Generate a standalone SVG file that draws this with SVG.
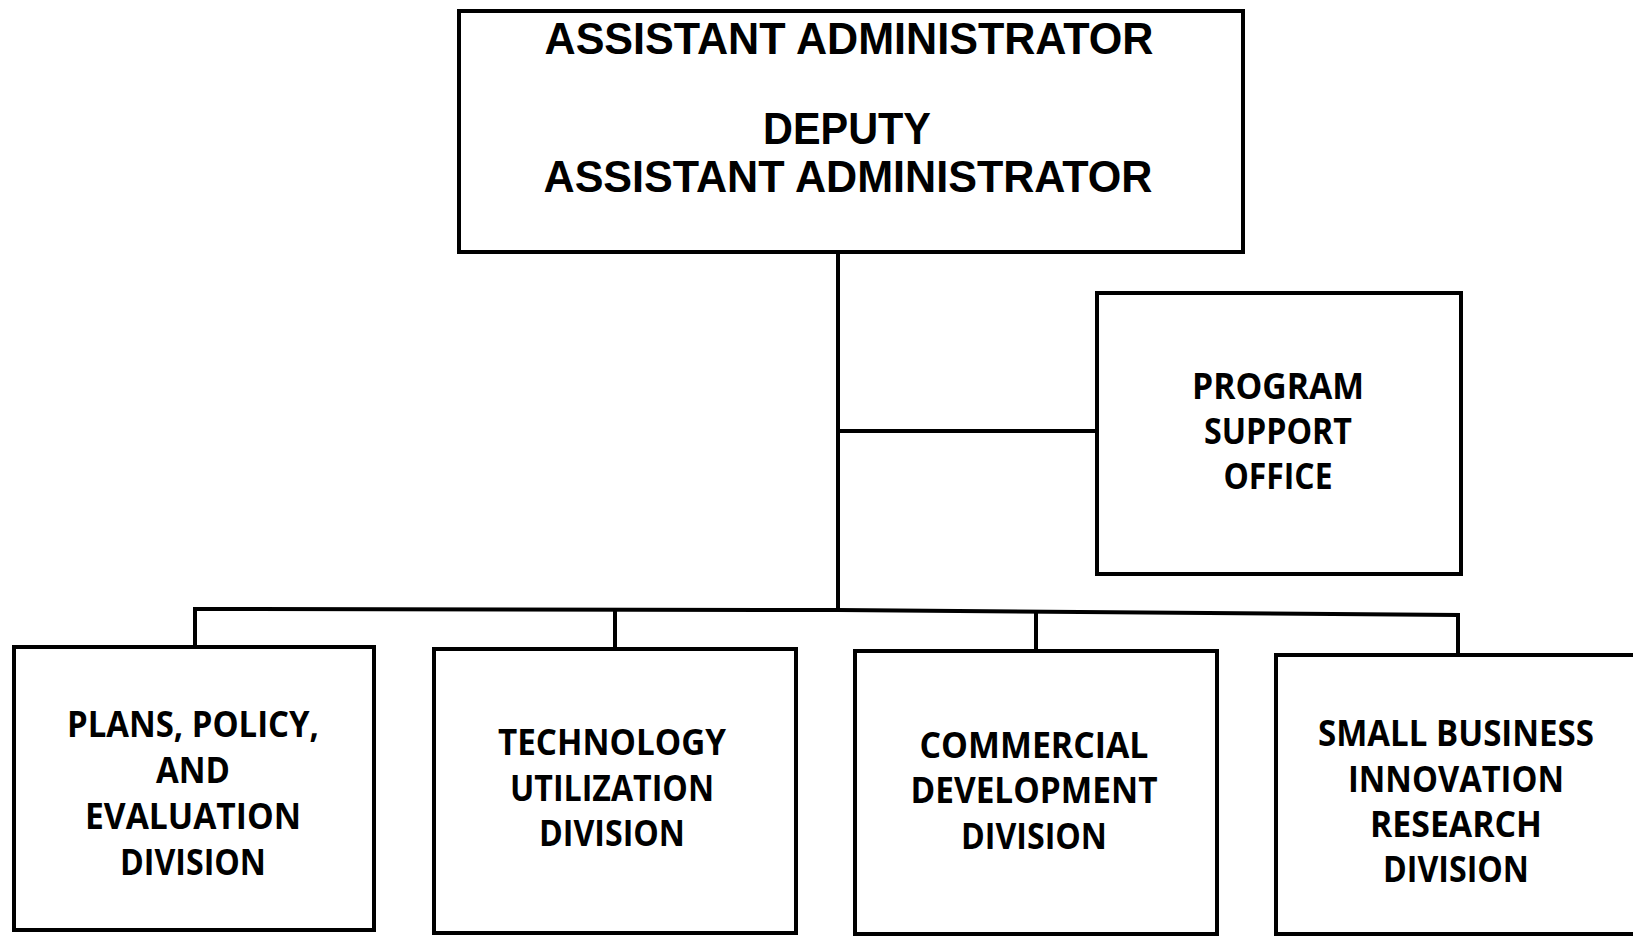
<svg xmlns="http://www.w3.org/2000/svg" width="1633" height="938" viewBox="0 0 1633 938">
<style>
.box{fill:#fff;stroke:#000;stroke-width:4}
.ln{fill:none;stroke:#000;stroke-width:4;stroke-linecap:square}
.t{font-family:"Open Sans","Noto Sans","Liberation Sans",sans-serif;font-weight:bold;fill:#000;text-anchor:middle}
.big{font-family:"Liberation Sans",Arial,sans-serif;font-size:45px}
.sm{font-size:36px}
</style>
<rect width="1633" height="938" fill="#fff"/>
<g id="connectors">
<line class="ln" x1="838" y1="252" x2="838" y2="610"/>
<line class="ln" x1="838" y1="431" x2="1097" y2="431"/>
<polyline class="ln" points="195,647 195,609 838,610 1458,615 1458,655"/>
<line class="ln" x1="615" y1="610" x2="615" y2="649"/>
<line class="ln" x1="1036" y1="613" x2="1036" y2="651"/>
</g>
<g id="assistant-administrator">
<rect class="box" x="459" y="11" width="784" height="241"/>
<text class="t big" x="849" y="54" textLength="609" lengthAdjust="spacingAndGlyphs">ASSISTANT ADMINISTRATOR</text>
<text class="t big" x="847" y="144" textLength="168" lengthAdjust="spacingAndGlyphs">DEPUTY</text>
<text class="t big" x="848" y="192" textLength="609" lengthAdjust="spacingAndGlyphs">ASSISTANT ADMINISTRATOR</text>
</g>
<g id="program-support-office">
<rect class="box" x="1097" y="293" width="364" height="281"/>
<text class="t sm" x="1278" y="399" textLength="172" lengthAdjust="spacingAndGlyphs">PROGRAM</text>
<text class="t sm" x="1278" y="444" textLength="148" lengthAdjust="spacingAndGlyphs">SUPPORT</text>
<text class="t sm" x="1278" y="489" textLength="109" lengthAdjust="spacingAndGlyphs">OFFICE</text>
</g>
<g id="plans-policy-evaluation">
<rect class="box" x="14" y="647" width="360" height="283"/>
<text class="t sm" x="193" y="737" textLength="252" lengthAdjust="spacingAndGlyphs">PLANS, POLICY,</text>
<text class="t sm" x="193" y="783" textLength="74" lengthAdjust="spacingAndGlyphs">AND</text>
<text class="t sm" x="193" y="829" textLength="216" lengthAdjust="spacingAndGlyphs">EVALUATION</text>
<text class="t sm" x="193" y="875" textLength="146" lengthAdjust="spacingAndGlyphs">DIVISION</text>
</g>
<g id="technology-utilization">
<rect class="box" x="434" y="649" width="362" height="284"/>
<text class="t sm" x="612" y="755" textLength="228" lengthAdjust="spacingAndGlyphs">TECHNOLOGY</text>
<text class="t sm" x="612" y="801" textLength="204" lengthAdjust="spacingAndGlyphs">UTILIZATION</text>
<text class="t sm" x="612" y="846" textLength="146" lengthAdjust="spacingAndGlyphs">DIVISION</text>
</g>
<g id="commercial-development">
<rect class="box" x="855" y="651" width="362" height="283"/>
<text class="t sm" x="1034" y="758" textLength="229" lengthAdjust="spacingAndGlyphs">COMMERCIAL</text>
<text class="t sm" x="1034" y="803" textLength="247" lengthAdjust="spacingAndGlyphs">DEVELOPMENT</text>
<text class="t sm" x="1034" y="849" textLength="146" lengthAdjust="spacingAndGlyphs">DIVISION</text>
</g>
<g id="small-business-innovation-research">
<rect class="box" x="1276" y="655" width="370" height="279"/>
<text class="t sm" x="1456" y="746" textLength="276" lengthAdjust="spacingAndGlyphs">SMALL BUSINESS</text>
<text class="t sm" x="1456" y="792" textLength="216" lengthAdjust="spacingAndGlyphs">INNOVATION</text>
<text class="t sm" x="1456" y="837" textLength="172" lengthAdjust="spacingAndGlyphs">RESEARCH</text>
<text class="t sm" x="1456" y="882" textLength="146" lengthAdjust="spacingAndGlyphs">DIVISION</text>
</g>
</svg>
